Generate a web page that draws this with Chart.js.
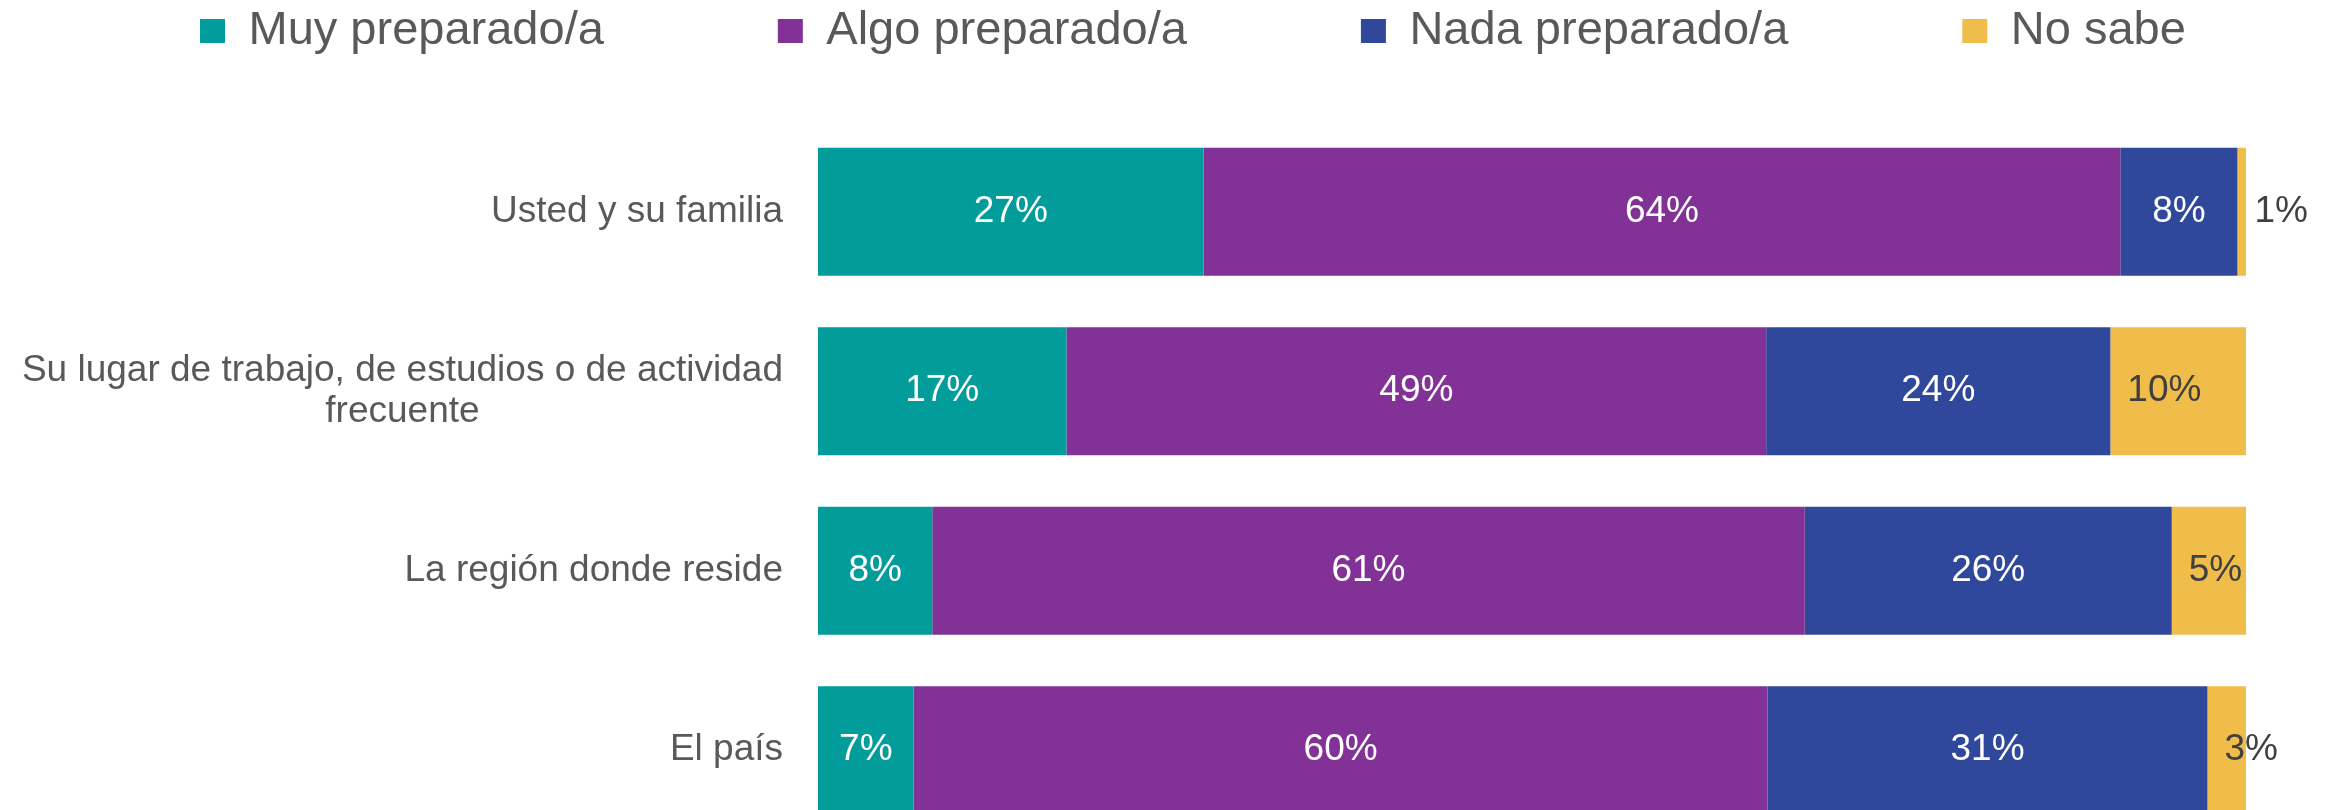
<!DOCTYPE html>
<html>
<head>
<meta charset="utf-8">
<script src="https://cdn.jsdelivr.net/npm/chart.js@4/dist/chart.umd.min.js"></script>
<style>
  html, body { margin: 0; padding: 0; background: #ffffff; overflow: hidden; }
  #wrap { position: relative; width: 2330px; height: 840px; }
</style>
</head>
<body>
<div id="wrap"><canvas id="c"></canvas></div>
<script>
// ---- Data ----
const categories = [
  'Usted y su familia',
  ['Su lugar de trabajo, de estudios o de actividad', 'frecuente'],
  'La región donde reside',
  'El país'
];
const seriesNames = ['Muy preparado/a', 'Algo preparado/a', 'Nada preparado/a', 'No sabe'];
const muyPreparado  = [27.0, 17.4, 8.0, 6.7];
const algoPreparado = [64.2, 49.0, 61.1, 59.8];
const nadaPreparado = [8.2, 24.1, 25.7, 30.8];
const noSabe        = [0.6, 9.5, 5.2, 2.7];

const colors = ['#029d9b', '#823296', '#30489b', '#f0bd4a'];
const labelColors = ['#ffffff', '#ffffff', '#ffffff', '#404040'];
const FONT = '"Liberation Sans", Arial, sans-serif';

Chart.defaults.font.family = FONT;
Chart.defaults.color = '#595959';

const seriesValues = [muyPreparado, algoPreparado, nadaPreparado, noSabe];

// Legend layout tweak
const legendLayout = {
  id: 'legendLayout',
  beforeLayout(chart) {
    const lg = chart.legend;
    if (lg && !lg._patched) {
      const orig = lg.fit;
      lg.fit = function () {
        const mw = this.maxWidth;
        this.maxWidth = 10000;
        orig.call(this);
        this.maxWidth = mw;
        this.width = mw;
        this.height = 122;
      };
      lg._patched = true;
    }
  },
  afterLayout(chart) {
    const lg = chart.legend;
    if (!lg) return;
    const pad = lg.options.labels.padding;
    lg.left = 200 - pad;
    lg.right = 4000;
    lg.top = 7.5 - pad;
    lg.bottom = 122;
  }
};

// Value labels on segments
const valueLabels = {
  id: 'valueLabels',
  afterDatasetsDraw(chart) {
    const ctx = chart.ctx;
    ctx.save();
    ctx.font = '37px ' + FONT;
    ctx.textBaseline = 'middle';
    chart.data.datasets.forEach((ds, di) => {
      const meta = chart.getDatasetMeta(di);
      meta.data.forEach((bar, i) => {
        const v = ds.data[i];
        const txt = Math.round(v) + '%';
        ctx.fillStyle = labelColors[di];
        if (di === 3) {
          ctx.textAlign = 'left';
          ctx.fillText(txt, bar.base + 17, bar.y);
        } else {
          ctx.textAlign = 'center';
          ctx.fillText(txt, (bar.x + bar.base) / 2, bar.y);
        }
      });
    });
    ctx.restore();
  }
};

// Category labels (right-aligned block, lines centred inside block)
const categoryLabels = {
  id: 'categoryLabels',
  afterDraw(chart) {
    const ctx = chart.ctx;
    const ys = chart.scales.y;
    ctx.save();
    ctx.font = '37px ' + FONT;
    ctx.fillStyle = '#595959';
    ctx.textBaseline = 'middle';
    ctx.textAlign = 'center';
    const right = chart.chartArea.left - 35;
    const lh = 41.5;
    chart.data.labels.forEach((lab, i) => {
      const lines = Array.isArray(lab) ? lab : [lab];
      const w = Math.max(...lines.map(l => ctx.measureText(l).width));
      const cx = right - w / 2;
      const y = ys.getPixelForTick(i);
      lines.forEach((l, k) => {
        ctx.fillText(l, cx, y + (k - (lines.length - 1) / 2) * lh);
      });
    });
    ctx.restore();
  }
};

new Chart(document.getElementById('c'), {
  type: 'bar',
  data: {
    labels: categories,
    datasets: seriesNames.map((name, i) => ({
      label: name,
      data: seriesValues[i],
      backgroundColor: colors[i],
      borderWidth: 0,
      barPercentage: 0.713,
      categoryPercentage: 1.0
    }))
  },
  options: {
    indexAxis: 'y',
    responsive: true,
    maintainAspectRatio: false,
    animation: false,
    layout: { padding: { left: 0, right: 84, top: 0, bottom: 0 } },
    scales: {
      x: { stacked: true, min: 0, max: 100, display: false },
      y: {
        stacked: true,
        grid: { display: false },
        border: { display: false },
        ticks: { display: false },
        afterFit(scale) { scale.width = 818; }
      }
    },
    plugins: {
      legend: {
        position: 'top',
        align: 'start',
        labels: {
          boxWidth: 25,
          boxHeight: 24,
          padding: 174,
          color: '#595959',
          font: { size: 47, family: FONT }
        }
      },
      tooltip: { enabled: false }
    }
  },
  plugins: [legendLayout, valueLabels, categoryLabels]
});
</script>
</body>
</html>
